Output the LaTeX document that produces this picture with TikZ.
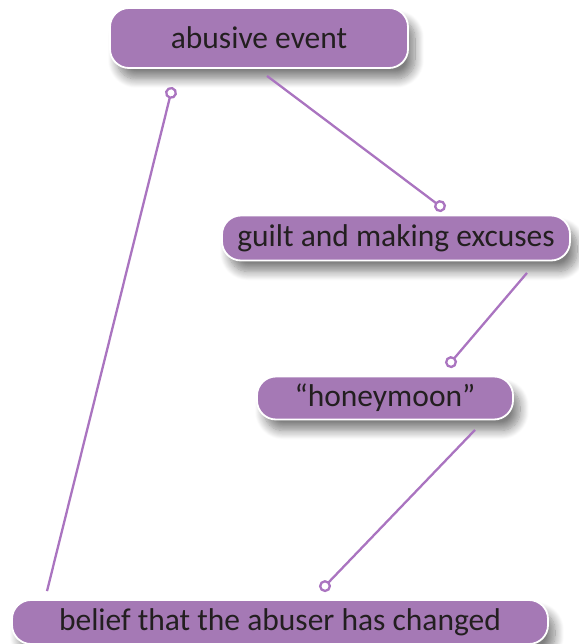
\documentclass[tikz,border=0pt]{standalone}
\usepackage{fontspec}
\setmainfont{Carlito}
\usetikzlibrary{arrows.meta,shadows.blur}

\definecolor{boxpurple}{RGB}{165,121,181}
\definecolor{linkpurple}{RGB}{170,116,192}
\definecolor{textdark}{RGB}{35,31,32}

\tikzset{
  stage/.style={rectangle, rounded corners=19pt, fill=boxpurple, draw=white,
    line width=1.8pt, text=textdark, inner sep=0pt,
    font=\fontsize{31.5}{36}\selectfont,
    blur shadow={shadow xshift=7pt, shadow yshift=-11pt,
      shadow blur radius=9pt, shadow blur steps=12, shadow opacity=50}},
  link/.style={linkpurple, line width=2.3pt, shorten >=-6pt,
    -{Circle[open, length=12pt, width=12pt, fill=white]}}
}

\begin{document}
\begin{tikzpicture}[x=1pt, y=-1pt]
\useasboundingbox (0,0) rectangle (578,644);

\node[stage, minimum width=298pt, minimum height=60pt] (abuse) at (259,38) {abusive event};
\node[stage, minimum width=348pt, minimum height=45pt] (guilt) at (396,238) {guilt and making excuses};
\node[stage, minimum width=256pt, minimum height=43pt] (honey) at (385,398) {``honeymoon''};
\node[stage, minimum width=536pt, minimum height=44pt] (belief) at (280,622) {belief that the abuser has changed};

% pins just above each box
\coordinate (guiltpin) at ([shift={(44,-8.5)}]guilt.north);
\coordinate (honeypin) at ([shift={(66,-13.5)}]honey.north);
\coordinate (beliefpin) at ([shift={(45,-13)}]belief.north);
\coordinate (abusepin) at ([shift={(-88,24)}]abuse.south);

\draw[link] ([shift={(8,7)}]abuse.south) -- (guiltpin);
\draw[link] ([shift={(131,11.5)}]guilt.south) -- (honeypin);
\draw[link] ([shift={(90,9.5)}]honey.south) -- (beliefpin);
\draw[link] ([shift={(-233,-8)}]belief.north) -- (abusepin);
\end{tikzpicture}
\end{document}
